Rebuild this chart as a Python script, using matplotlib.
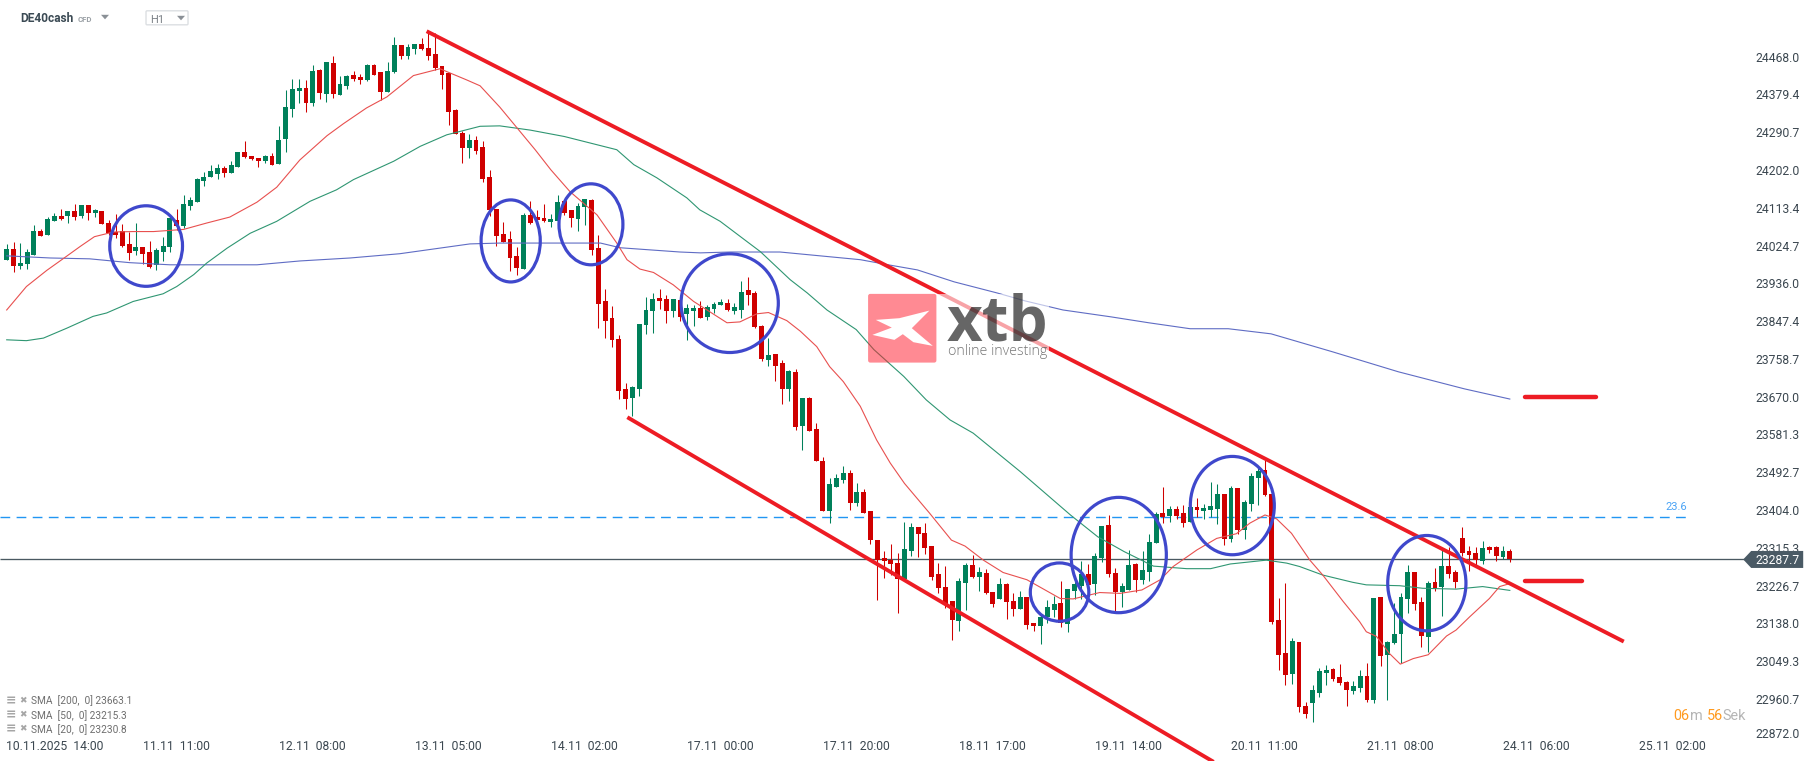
import matplotlib
matplotlib.use('Agg')
import matplotlib.pyplot as plt
from matplotlib.patches import Ellipse, Polygon, Rectangle, FancyBboxPatch
from matplotlib.transforms import ScaledTranslation

plt.rcParams['font.family'] = ['Roboto', 'DejaVu Sans']

# candles, hourly
opens = [23991,24017,23977,23981,24002,24059,24049,24082,24094,24094,
         24106,24094,24120,24101,24106,24078,24056,24059,24028,24012,
         24021,24010,23979,24010,24021,24085,24071,24117,24127,24176,
         24186,24193,24207,24195,24209,24244,24235,24230,24223,24235,
         24216,24275,24345,24387,24394,24359,24437,24380,24453,24378,
         24399,24425,24420,24413,24448,24432,24385,24432,24495,24470,
         24486,24498,24488,24474,24446,24430,24343,24289,24254,24272,
         24256,24186,24110,24052,24040,24000,23970,24096,24092,24089,
         24080,24082,24129,24108,24087,24115,24132,24019,23895,23855,
         23805,23688,23667,23688,23838,23871,23902,23899,23871,23897,
         23864,23871,23878,23857,23876,23885,23890,23871,23874,23920,
         23913,23836,23756,23770,23749,23688,23728,23601,23667,23594,
         23519,23402,23458,23474,23491,23420,23446,23402,23333,23291,
         23286,23279,23242,23308,23364,23350,23319,23254,23223,23190,
         23143,23233,23275,23247,23256,23211,23195,23230,23190,23171,
         23200,23139,23132,23153,23169,23186,23136,23214,23225,23254,
         23230,23291,23369,23256,23211,23216,23277,23240,23258,23326,
         23397,23390,23406,23397,23376,23411,23402,23404,23406,23441,
         23336,23456,23357,23418,23479,23498,23441,23146,23068,23019,
         23094,22944,22951,22974,23021,23031,23012,23000,22979,22986,
         23014,22958,23200,23064,23092,23113,23195,23258,23188,23106,
         23235,23223,23272,23258,23338,23308,23303,23284,23317,23317,
         23293,23308]
highs = [24028,24033,24031,24017,24073,24064,24092,24100,24110,24106,
         24122,24120,24120,24110,24106,24085,24099,24075,24056,24078,
         24021,24035,24019,24045,24089,24110,24143,24139,24183,24197,
         24214,24216,24211,24223,24244,24270,24235,24230,24237,24242,
         24305,24390,24416,24416,24413,24448,24439,24455,24470,24423,
         24425,24434,24427,24451,24451,24432,24455,24514,24495,24498,
         24498,24512,24526,24524,24446,24430,24345,24294,24287,24282,
         24270,24202,24110,24080,24059,24021,24101,24129,24108,24122,
         24099,24143,24129,24108,24125,24134,24134,24050,23923,23883,
         23815,23702,23695,23841,23904,23913,23923,23909,23899,23904,
         23888,23885,23895,23885,23892,23899,23899,23890,23942,23951,
         23918,23838,23808,23770,23756,23733,23735,23667,23669,23608,
         23528,23479,23489,23507,23498,23467,23453,23402,23333,23308,
         23324,23303,23376,23373,23364,23373,23319,23279,23272,23190,
         23244,23279,23298,23270,23265,23211,23244,23233,23209,23214,
         23200,23139,23157,23193,23202,23237,23218,23240,23284,23277,
         23303,23366,23392,23268,23233,23310,23279,23308,23347,23399,
         23458,23413,23413,23416,23411,23432,23418,23470,23465,23441,
         23460,23456,23427,23491,23502,23521,23441,23197,23233,23103,
         23094,22953,22993,23033,23040,23033,23042,23002,23002,23028,
         23045,23197,23200,23096,23186,23209,23275,23258,23200,23237,
         23268,23310,23317,23263,23364,23319,23317,23331,23319,23319,
         23319,23312]
lows = [23991,23963,23968,23970,24002,24047,24049,24082,24085,24078,
        24085,24089,24085,24092,24075,24049,24042,24021,23991,24002,
        23981,23972,23967,23988,24010,24061,24066,24108,24127,24164,
        24186,24181,24186,24195,24209,24230,24225,24209,24218,24214,
        24216,24244,24326,24359,24338,24352,24369,24362,24371,24378,
        24392,24411,24404,24411,24425,24366,24385,24430,24463,24463,
        24474,24484,24460,24437,24392,24308,24287,24218,24230,24240,
        24174,24093,24024,24033,23965,23956,23970,24075,24085,24080,
        24068,24082,24096,24068,24059,24073,24003,23831,23808,23787,
        23665,23641,23625,23672,23817,23820,23876,23843,23857,23848,
        23803,23836,23855,23850,23866,23885,23871,23864,23855,23885,
        23831,23754,23742,23707,23653,23660,23592,23545,23590,23519,
        23402,23374,23458,23467,23404,23413,23397,23324,23193,23244,
        23251,23162,23242,23296,23293,23301,23240,23209,23174,23099,
        23120,23169,23244,23214,23207,23176,23195,23148,23155,23171,
        23125,23120,23089,23139,23153,23129,23118,23195,23195,23225,
        23204,23282,23247,23165,23176,23216,23211,23230,23237,23326,
        23373,23376,23383,23364,23376,23387,23383,23387,23371,23322,
        23329,23347,23336,23402,23416,23437,23136,23028,22993,22995,
        22930,22916,22906,22965,22993,23002,22993,22944,22972,22977,
        22953,22951,23038,22958,23089,23045,23162,23169,23082,23071,
        23214,23155,23244,23221,23296,23261,23272,23277,23303,23284,
        23289,23282]
closes = [24017,23977,23984,24010,24059,24047,24087,24094,24087,24106,
          24092,24120,24101,24108,24075,24053,24049,24024,24007,24021,
          24005,23974,24014,24024,24089,24071,24122,24132,24181,24186,
          24200,24207,24195,24214,24244,24233,24228,24223,24235,24214,
          24272,24350,24392,24394,24359,24434,24383,24455,24380,24404,
          24423,24416,24413,24448,24425,24385,24434,24495,24470,24491,
          24498,24486,24470,24441,24425,24338,24287,24254,24272,24247,
          24181,24108,24047,24033,23995,23972,24096,24078,24085,24082,
          24087,24127,24101,24089,24118,24134,24014,23888,23848,23803,
          23683,23665,23693,23841,23874,23899,23895,23871,23899,23857,
          23878,23878,23855,23880,23888,23892,23874,23880,23916,23909,
          23834,23758,23768,23742,23688,23730,23599,23667,23590,23519,
          23402,23465,23479,23491,23420,23446,23397,23333,23286,23284,
          23277,23242,23312,23364,23347,23315,23247,23221,23183,23146,
          23237,23275,23247,23258,23209,23183,23230,23188,23171,23200,
          23134,23132,23153,23176,23183,23139,23218,23230,23254,23228,
          23296,23366,23254,23211,23225,23275,23240,23263,23329,23394,
          23387,23406,23390,23373,23411,23404,23409,23413,23441,23336,
          23456,23357,23423,23484,23495,23439,23141,23063,23017,23096,
          22941,22925,22981,23026,23028,23007,22998,22981,22991,23014,
          22958,23197,23061,23094,23113,23200,23258,23183,23108,23233,
          23221,23272,23254,23235,23303,23298,23286,23315,23310,23296,
          23308,23289]

# moving averages, read at the bends of each line
sma20_x = [0,2.9,5.9,8.8,10.8,12.9,15.7,18.6,21.6,26,29.4,32.8,36.8,39.7,43.1,47.1,49.5,52.9,55.9,59.8,
           63.7,67.6,69.6,72.5,77.7,80,82.8,86.8,89.7,91.2,93.1,95.1,98,101,105.9,107.8,110.3,112,114.7,
           116.7,119.1,121,123,125.5,127.9,129.9,132,135.7,138.9,140.9,143.6,146.5,150,154.9,156.8,160.7,
           163.7,166.9,169.6,171.5,175,177.9,180.8,182.8,185,186.7,188.9,191.6,193.5,196.5,198.9,199.9,
           201.4,203.3,204.9,206.8,209,211.7,213.1,215.1,218,219.5,221]
sma20_y = [23873,23928,23966,23999,24022,24045,24056,24057,24057,24062,24077,24091,24126,24161,24225,24282,24310,24347,24373,24423,
           24439,24413,24399,24349,24249,24202,24151,24096,24030,23991,23969,23961,23932,23893,23843,23845,23864,23867,23848,
           23823,23787,23740,23705,23647,23568,23514,23466,23396,23333,23319,23286,23257,23240,23196,23195,23210,
           23208,23216,23240,23271,23310,23337,23348,23373,23392,23383,23349,23286,23251,23189,23142,23118,
           23107,23067,23042,23055,23064,23108,23122,23153,23196,23224,23231]
sma50_x = [0,2.9,5.4,8.8,12.7,14.7,18.6,23,25,27.5,29.4,32.4,35.8,39.7,44.6,48.5,51,56.9,60.8,64.7,69.6,72.5,77,82,
           89.7,92.2,95.6,100,101.9,104.9,108.8,110.8,115.2,117.7,120.6,124.9,127.5,131.9,135.2,138.7,142.1,149,156.4,
           160.4,164.3,168.6,173.5,177,179.9,185.2,188.2,190.1,193.5,197.9,199.9,204.8,208.2,213.1,217,221]
sma50_y = [23803,23801,23807,23830,23858,23866,23893,23911,23928,23956,23983,24018,24053,24081,24128,24155,24179,24222,24257,24284,24304,24305,24295,24280,
           24249,24214,24183,24136,24108,24081,24034,24010,23944,23913,23873,23827,23780,23717,23662,23615,23584,23494,23392,
           23341,23306,23272,23266,23266,23277,23286,23279,23271,23251,23234,23228,23226,23220,23218,23224,23215]
sma200_x = [0,6.4,12.2,18.1,24,36.8,43.1,50.5,57.8,68.1,72.5,87.3,90.2,99,102,106.4,113.7,125.5,129.6,133.9,139.3,
            145.6,149.8,155.3,162.3,167.9,174,179.6,185.9,194.9,204.6,214.3,221]
sma200_y = [24000,23995,23993,23984,23979,23979,23988,23995,24005,24028,24030,24030,24019,24009,24007,24009,24009,23991,23979,23967,23939,
            23913,23894,23873,23857,23843,23829,23829,23817,23775,23728,23688,23664]

# hand drawn lines and circles
trend_up_x = [62, 237.5]
trend_up_y = [24525, 23097]
trend_low_x = [91.5, 177.2]
trend_low_y = [23619, 22815]
bar_top_x = [223.2, 233.7]
bar_top_y = [23668, 23668]
bar_low_x = [223.3, 231.6]
bar_low_y = [23236, 23236]
circle_x = [20.5, 74.1, 85.9, 106.3, 154.8, 163.5, 180.2, 208.8]
circle_y = [24023, 24035, 24074, 23889, 23211, 23298, 23414, 23232]
circle_w = [10.7, 8.7, 9.4, 14.3, 8.6, 14, 12.35, 11.5]
circle_h = [189, 192.5, 190, 231.6, 136.8, 270.6, 230.7, 223.7]
fib_level = 23388
last_price = 23287.7

ytick_vals = [24468.0,24379.4,24290.7,24202.0,24113.4,24024.7,23936.0,23847.4,23758.7,23670.0,
              23581.3,23492.7,23404.0,23315.3,23226.7,23138.0,23049.3,22960.7,22872.0]
xtick_pos = [7.1,24.9,44.9,64.9,84.9,104.9,124.9,144.9,164.9,184.9,204.9,224.9,244.9]
xtick_labels = ['10.11.2025  14:00','11.11  11:00','12.11  08:00','13.11  05:00','14.11  02:00','17.11  00:00',
                '17.11  20:00','18.11  17:00','19.11  14:00','20.11  11:00','21.11  08:00','24.11  06:00','25.11  02:00']
legend_rows = ['SMA  [200,  0] 23663.1', 'SMA  [50,  0] 23215.3', 'SMA  [20,  0] 23230.8']

RED = '#cf0000'
GREEN = '#00805a'
LINE_RED = '#ed1c24'
CIRCLE = '#3f48cc'
W, H = 1815, 761


def fx(x):
    return x / W


def fy(y):
    return 1 - y / H


fig = plt.figure(figsize=(1815.2 / 100, 761.2 / 100), dpi=100, facecolor='white')
ax = fig.add_axes([0, 0, 1, 1])
ax.set_xlim(-0.985, 265.9)
ax.set_ylim(22814.7, 24600.8)
for s in ax.spines.values():
    s.set_visible(False)

# candles
for i in range(len(opens)):
    col = GREEN if closes[i] >= opens[i] else RED
    ax.vlines(i, lows[i], highs[i], color=col, lw=0.75, zorder=3)
    ax.bar(i, abs(closes[i] - opens[i]), bottom=min(opens[i], closes[i]), width=0.72, color=col, lw=0, zorder=3)

ax.plot(sma200_x, sma200_y, color='#5f6cc4', lw=0.8, zorder=4)
ax.plot(sma50_x, sma50_y, color='#2f9672', lw=0.8, zorder=4)
ax.plot(sma20_x, sma20_y, color='#e8504f', lw=0.8, zorder=4)

ax.hlines(fib_level, -1, 247.7, color='#2196f3', lw=1.0, linestyles=(0, (7, 4.6)), zorder=2)
ax.hlines(last_price, -1, 255.6, color='#4a5961', lw=0.95, zorder=2)

ax.plot(trend_up_x, trend_up_y, color=LINE_RED, lw=2.8, zorder=5)
ax.plot(trend_low_x, trend_low_y, color=LINE_RED, lw=2.8, zorder=5)
ax.plot(bar_top_x, bar_top_y, color=LINE_RED, lw=3.2, solid_capstyle='round', zorder=5)
ax.plot(bar_low_x, bar_low_y, color=LINE_RED, lw=3.2, solid_capstyle='round', zorder=5)

for cx, cy, cw, ch in zip(circle_x, circle_y, circle_w, circle_h):
    ax.add_patch(Ellipse((cx, cy), cw, ch, fill=False, ec=CIRCLE, lw=2.3, zorder=6))

ax.text(fx(1676), fy(507), '23.6', transform=fig.transFigure, color='#4aa3f5', fontsize=8, ha='center', va='center')

# axes labels sit inside the plot
ax.yaxis.tick_right()
ax.set_yticks(ytick_vals)
ax.set_yticklabels(['%.1f' % v for v in ytick_vals])
ax.tick_params(axis='y', length=0, pad=-43.2, labelsize=8.7, labelcolor='#3b4750')
ax.set_xticks(xtick_pos)
ax.set_xticklabels(xtick_labels)
ax.tick_params(axis='x', length=0, pad=-15.5, labelsize=8.7, labelcolor='#3b4750')
low_lab = ax.get_yticklabels()[-1]
low_lab.set_transform(low_lab.get_transform() + ScaledTranslation(0, 4 / 100, fig.dpi_scale_trans))

# price tag
tag = Polygon([(fx(1743), fy(559.5)), (fx(1751), fy(551)), (fx(1803), fy(551)), (fx(1803), fy(568)), (fx(1751), fy(568))],
              closed=True, transform=fig.transFigure, fc='#4a5a65', ec='none', zorder=7)
ax.add_patch(tag)
ax.text(fx(1755), fy(560.5), '23287.7', transform=fig.transFigure, color='white', fontsize=8.7, va='center', zorder=8)

# logo, washes out what is behind it
ax.add_patch(Rectangle((fx(936), fy(362.7)), 113 / W, 68.7 / H, transform=fig.transFigure, fc='white', alpha=0.6, ec='none', zorder=9))
ax.add_patch(FancyBboxPatch((fx(868), fy(362.7)), 68.3 / W, 68.7 / H, boxstyle='round,pad=0,rounding_size=0.0012', mutation_aspect=W / H,
                            transform=fig.transFigure, fc='#ff1f30', alpha=0.52, ec='none', zorder=9))
wing = [(875.7, 320), (899.3, 318.3), (929.3, 310.7), (911.7, 328.3), (932.7, 346), (913.3, 342.3), (902.7, 334.3), (894.3, 340), (872.3, 335), (891.7, 327.7)]
ax.add_patch(Polygon([(fx(a), fy(b)) for a, b in wing], closed=True, transform=fig.transFigure, fc='white', ec='none', zorder=10))
ax.text(fx(947), fy(340), 'xtb', transform=fig.transFigure, family='Open Sans', fontweight='bold', fontsize=44.5,
        color='black', alpha=0.6, va='baseline', zorder=10)
ax.text(fx(948), fy(351.7), 'online investing', transform=fig.transFigure, family='Open Sans', fontweight='light', fontsize=10.3,
        color='#666666', alpha=0.9, va='center', zorder=10)

# header
ax.text(fx(20), fy(18.7), 'DE40cash', transform=fig.transFigure, fontsize=8.6, fontweight='bold', color='#3b4a54', va='center')
ax.text(fx(78), fy(19.3), 'CFD', transform=fig.transFigure, fontsize=5.6, fontweight='bold', color='#9aa0a5', va='center')
ax.add_patch(Polygon([(fx(101), fy(15)), (fx(109), fy(15)), (fx(105), fy(19.5))], closed=True, transform=fig.transFigure, fc='#8a9096', ec='none'))
ax.add_patch(FancyBboxPatch((fx(146), fy(25)), 42 / W, 14 / H, boxstyle='round,pad=0,rounding_size=0.0006', mutation_aspect=W / H,
                            transform=fig.transFigure, fc='white', ec='#dcdfe2', lw=1))
ax.text(fx(150), fy(19.5), 'H1', transform=fig.transFigure, fontsize=8, color='#7b8187', va='center')
ax.add_patch(Polygon([(fx(177), fy(16)), (fx(185), fy(16)), (fx(181), fy(20.5))], closed=True, transform=fig.transFigure, fc='#8a9096', ec='none'))

# study legend
for n, row in enumerate(legend_rows):
    yy = 701 + n * 14
    ax.text(fx(6), fy(yy - 0.5), '\u2261', transform=fig.transFigure, family='DejaVu Sans', fontsize=9, fontweight='bold', color='#a6a6a6', va='center')
    ax.text(fx(19), fy(yy - 0.5), '\u2716', transform=fig.transFigure, family='DejaVu Sans', fontsize=6.5, color='#a6a6a6', va='center')
    ax.text(fx(31), fy(yy), row, transform=fig.transFigure, fontsize=7.3, color='#6e6e6e', va='center')

# candle timer
for xp, s, c in [(1672.7, '06', '#ff9a1f'), (1689.5, 'm', '#b5b5b5'), (1706.7, '56', '#ff9a1f'), (1722.7, 'Sek', '#b5b5b5')]:
    ax.text(fx(xp), fy(716), s, transform=fig.transFigure, fontsize=10.4, color=c, va='center')

fig.savefig('out.png', dpi=100, facecolor='white')
